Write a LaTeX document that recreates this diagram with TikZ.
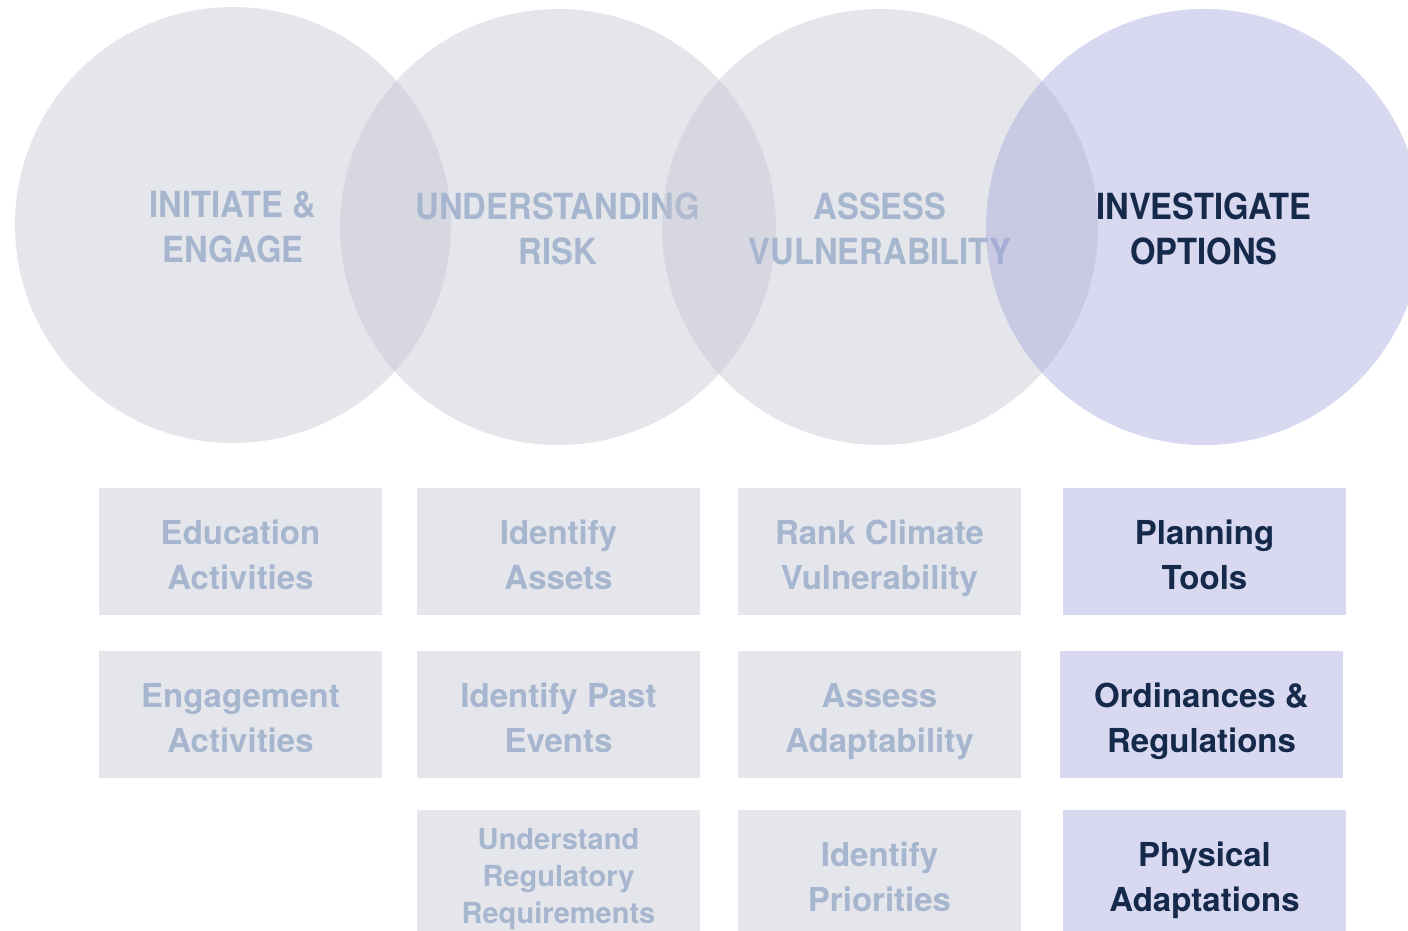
\documentclass[tikz,border=0pt]{standalone}
\usepackage{fontspec}
\setmainfont{TeX Gyre Heros}
\newfontfamily\stagefont[FakeStretch=0.91]{TeX Gyre Heros}
\usetikzlibrary{positioning}

\definecolor{ringgrey}  {RGB}{193,195,210}
\definecolor{ringlilac} {RGB}{162,162,219}
\definecolor{boxgrey}   {RGB}{229,230,236}
\definecolor{boxlilac}  {RGB}{216,216,240}
\definecolor{fadedtext} {RGB}{166,182,206}
\definecolor{darktext}  {RGB}{21,41,74}

\begin{document}
\begin{tikzpicture}
  [x=1pt,y=-1pt,
   stage/.style={circle,minimum size=436pt,inner sep=0pt,fill=ringgrey,
     fill opacity=.42,text opacity=1,text=fadedtext,align=center,
     text height=80pt,text depth=5pt,
     font=\stagefont\bfseries\fontsize{36}{45}\selectfont},
   task/.style={rectangle,minimum width=283pt,minimum height=127pt,inner sep=0pt,
     fill=boxgrey,text=fadedtext,align=center,
     text height=80pt,text depth=5pt,
     font=\bfseries\fontsize{33}{45}\selectfont},
   smalltask/.style={text height=104pt,text depth=5pt,
     font=\bfseries\fontsize{29}{37}\selectfont},
   current/.style={fill=ringlilac,text=darktext},
   currenttask/.style={fill=boxlilac,text=darktext}]
  \clip (0,0) rectangle (1408,930);

  % the four stages
  \node[stage] (init) at (233,225) {INITIATE \&\\ENGAGE};
  \node[stage] (risk) at (558,227) {UNDERSTANDING\\RISK};
  \node[stage] (vuln) at (880,227) {ASSESS\\VULNERABILITY};
  \node[stage,current] (options) at (1204,227) {INVESTIGATE\\OPTIONS};

  % tasks of each stage
  \node[task] (edu)    at (240.5,551.5) {Education\\Activities};
  \node[task] (engage) at (240.5,714.5) {Engagement\\Activities};

  \node[task] (assets) at (558.5,551.5) {Identify\\Assets};
  \node[task] (events) at (558.5,714.5) {Identify Past\\Events};
  \node[task,smalltask] (regs) at (558.5,873.5)
    {Understand\\Regulatory\\Requirements};

  \node[task] (rank)   at (879.5,551.5) {Rank Climate\\Vulnerability};
  \node[task] (adapt)  at (879.5,714.5) {Assess\\Adaptability};
  \node[task] (prior)  at (879.5,873.5) {Identify\\Priorities};

  \node[task,currenttask] (plan)  at (1204.5,551.5) {Planning\\Tools};
  \node[task,currenttask] (ordin) at (1201.5,714.5) {Ordinances \&\\Regulations};
  \node[task,currenttask] (phys)  at (1204.5,873.5) {Physical\\Adaptations};
\end{tikzpicture}
\end{document}
